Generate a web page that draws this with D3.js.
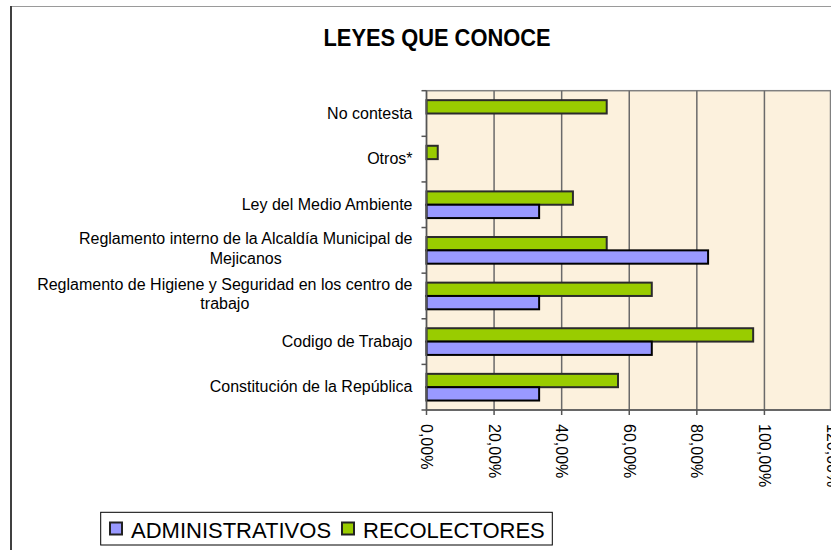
<!DOCTYPE html>
<html>
<head>
<meta charset="utf-8">
<script src="https://cdn.jsdelivr.net/npm/d3@7"></script>
<style>
  body { margin: 0; background: #fff; }
  svg { display: block; font-family: Arial, "Liberation Sans", sans-serif; }
</style>
</head>
<body>
<svg class="chart"></svg>
<script>
// categories listed top to bottom as in the chart
const categories = [
  "No contesta",
  "Otros*",
  "Ley del Medio Ambiente",
  "Reglamento interno de la Alcaldía Municipal de|Mejicanos",
  "Reglamento de Higiene y Seguridad en los centro de|trabajo",
  "Codigo de Trabajo",
  "Constitución de la República"
];
const seriesNames = ["ADMINISTRATIVOS", "RECOLECTORES"];
const administrativos = [0, 0, 0.3333, 0.8333, 0.3333, 0.6667, 0.3333];
const recolectores = [0.5333, 0.0333, 0.4333, 0.5333, 0.6667, 0.9667, 0.5667];
const xTicks = [0, 0.2, 0.4, 0.6, 0.8, 1.0, 1.2];
const colors = { ADMINISTRATIVOS: "#9999FF", RECOLECTORES: "#99CC00" };

const mainWidth = 831;
const mainHeight = 550;
const plot = { left: 426.5, right: 832, top: 90.7, bottom: 410 };

const svg = d3.select(".chart")
  .attr("width", mainWidth)
  .attr("height", mainHeight);

// outer chart frame (only top and left edges visible)
svg.append("line")
  .attr("x1", 10).attr("x2", mainWidth).attr("y1", 6.5).attr("y2", 6.5)
  .attr("stroke", "#9a9a9a").attr("stroke-width", 1);
svg.append("line")
  .attr("x1", 11).attr("x2", 11).attr("y1", 6).attr("y2", mainHeight)
  .attr("stroke", "#404040").attr("stroke-width", 2);

svg.append("text")
  .attr("x", 437)
  .attr("y", 45.7)
  .attr("text-anchor", "middle")
  .attr("font-size", 23)
  .attr("font-weight", "bold")
  .attr("textLength", 227)
  .attr("lengthAdjust", "spacingAndGlyphs")
  .text("LEYES QUE CONOCE");

const xScale = d3.scaleLinear()
  .domain([0, 1.2])
  .range([plot.left, plot.right]);

const yScale = d3.scaleBand()
  .domain(categories)
  .range([plot.top, plot.bottom]);

// green sits above blue inside each band
const ySub = d3.scaleBand()
  .domain(["RECOLECTORES", "ADMINISTRATIVOS"])
  .range([0, yScale.bandwidth()])
  .paddingOuter(0.71)
  .paddingInner(0);

// plot background
svg.append("rect")
  .attr("x", plot.left)
  .attr("y", plot.top)
  .attr("width", 830.5 - plot.left)
  .attr("height", plot.bottom - plot.top)
  .attr("fill", "#FCF1DD")
  .attr("stroke", "#808080")
  .attr("stroke-width", 1.5);

// vertical gridlines
svg.append("g")
  .selectAll("line")
  .data(xTicks.slice(1, -1))
  .join("line")
  .attr("x1", d => xScale(d)).attr("x2", d => xScale(d))
  .attr("y1", plot.top).attr("y2", plot.bottom)
  .attr("stroke", "#6a6a6a")
  .attr("stroke-width", 1.5);

const rows = categories.map((c, i) => ({
  category: c,
  values: [
    { key: "RECOLECTORES", value: recolectores[i] },
    { key: "ADMINISTRATIVOS", value: administrativos[i] }
  ]
}));

const group = svg.append("g")
  .selectAll("g")
  .data(rows)
  .join("g")
  .attr("transform", d => `translate(0, ${yScale(d.category)})`);

group.selectAll("rect")
  .data(d => d.values.filter(v => v.value > 0))
  .join("rect")
  .attr("x", xScale(0))
  .attr("y", d => ySub(d.key))
  .attr("width", d => xScale(d.value) - xScale(0))
  .attr("height", ySub.bandwidth())
  .attr("fill", d => colors[d.key])
  .attr("stroke", d => d.key === "ADMINISTRATIVOS" ? "#000" : "#2b2b2b")
  .attr("stroke-width", 2);

// category axis
const yAxis = svg.append("g")
  .attr("transform", `translate(${plot.left}, 0)`);
yAxis.append("line")
  .attr("y1", plot.top).attr("y2", plot.bottom)
  .attr("stroke", "#555").attr("stroke-width", 1.5);
yAxis.selectAll(".tick")
  .data(categories.map(c => yScale(c)).concat([plot.bottom]))
  .join("line")
  .attr("x1", -5).attr("x2", 0)
  .attr("y1", d => d).attr("y2", d => d)
  .attr("stroke", "#555").attr("stroke-width", 1.5);

const labels = yAxis.selectAll("text")
  .data(categories)
  .join("text")
  .attr("font-size", 16)
  .attr("fill", "#000");

labels.each(function (c) {
  const lines = c.split("|");
  const center = yScale(c) + yScale.bandwidth() / 2;
  const el = d3.select(this);
  if (lines.length === 1) {
    el.attr("text-anchor", "end")
      .attr("x", -14)
      .attr("y", center + 5)
      .text(c);
  } else {
    // wrapped label: lines centered on the widest line, right edge at the axis
    el.attr("text-anchor", "middle");
    const spans = lines.map((line, j) => el.append("tspan")
      .attr("y", center - 6 + j * 19.5)
      .text(line));
    const widest = d3.max(spans, s => s.node().getComputedTextLength());
    spans.forEach(s => s.attr("x", -14 - widest / 2));
  }
});

// value axis
const xAxis = svg.append("g")
  .attr("transform", `translate(0, ${plot.bottom})`);
xAxis.append("line")
  .attr("x1", plot.left).attr("x2", mainWidth)
  .attr("stroke", "#555").attr("stroke-width", 1.5);
xAxis.selectAll("line.tick")
  .data(xTicks)
  .join("line")
  .attr("class", "tick")
  .attr("x1", d => xScale(d)).attr("x2", d => xScale(d))
  .attr("y1", 0).attr("y2", 5)
  .attr("stroke", "#555").attr("stroke-width", 1.5);
xAxis.selectAll("text")
  .data(xTicks)
  .join("text")
  .attr("font-size", 16)
  .attr("dominant-baseline", "central")
  .attr("transform", d => `translate(${xScale(d)}, 14) rotate(90)`)
  .text(d => (d * 100).toFixed(2).replace(".", ",") + "%");

// legend
const legend = svg.append("g");
legend.append("rect")
  .attr("x", 100.7).attr("y", 512.3)
  .attr("width", 451.6).attr("height", 32.7)
  .attr("fill", "#fff")
  .attr("stroke", "#000")
  .attr("stroke-width", 1);

const legendX = { ADMINISTRATIVOS: 110, RECOLECTORES: 342 };
seriesNames.forEach(name => {
  legend.append("rect")
    .attr("x", legendX[name]).attr("y", 522.5)
    .attr("width", 12).attr("height", 12)
    .attr("fill", colors[name])
    .attr("stroke", "#222")
    .attr("stroke-width", 2);
  legend.append("text")
    .attr("x", legendX[name] + 21)
    .attr("y", 537.5)
    .attr("font-size", 22)
    .text(name);
});
</script>
</body>
</html>
